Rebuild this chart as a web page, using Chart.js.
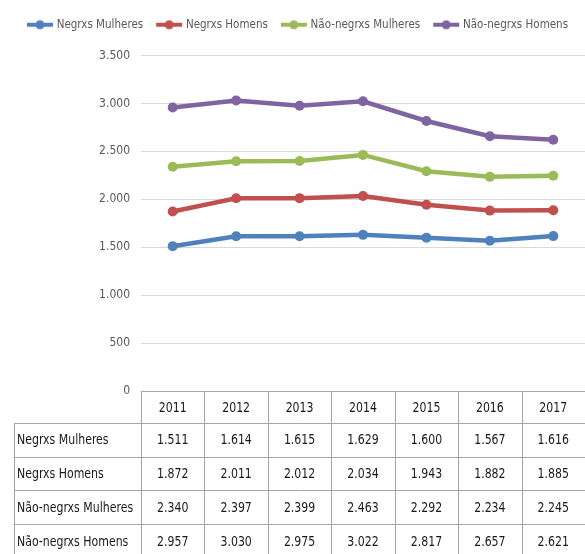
<!DOCTYPE html>
<html>
<head>
<meta charset="utf-8">
<script src="https://cdn.jsdelivr.net/npm/chart.js@4.4.0/dist/chart.umd.min.js"></script>
<style>
  html, body { margin: 0; padding: 0; background: #fff; }
</style>
</head>
<body>
<canvas id="grafico" width="585" height="554"></canvas>
<script>
const anos = ["2011", "2012", "2013", "2014", "2015", "2016", "2017"];
const series = ["Negrxs Mulheres", "Negrxs Homens", "Não-negrxs Mulheres", "Não-negrxs Homens"];
const negrxsMulheres = [1511, 1614, 1615, 1629, 1600, 1567, 1616];
const negrxsHomens = [1872, 2011, 2012, 2034, 1943, 1882, 1885];
const naoNegrxsMulheres = [2340, 2397, 2399, 2463, 2292, 2234, 2245];
const naoNegrxsHomens = [2957, 3030, 2975, 3022, 2817, 2657, 2621];
const cores = ["#4f81bd", "#c0504d", "#9bbb59", "#8064a2"];
const yMax = 3500;
const yPasso = 500;

const fonte = "'Liberation Sans Narrow', 'DejaVu Sans Condensed', sans-serif";
Chart.defaults.font.family = fonte;

// separador de milhar com ponto (3.500)
function fmt(n) {
  return String(n).replace(/\B(?=(\d{3})+(?!\d))/g, ".");
}

// marcador da legenda: linha com ponto no meio
function marcador(cor) {
  const c = document.createElement("canvas");
  c.width = 28;
  c.height = 12;
  const g = c.getContext("2d");
  g.strokeStyle = cor;
  g.lineWidth = 4;
  g.beginPath();
  g.moveTo(1, 6);
  g.lineTo(27, 6);
  g.stroke();
  g.fillStyle = cor;
  g.beginPath();
  g.arc(14, 6, 4.5, 0, Math.PI * 2);
  g.fill();
  return c;
}

// texto estreito (a fonte original é mais condensada)
function textoEstreito(ctx, txt, x, y, alinhar) {
  ctx.save();
  ctx.translate(x, y);
  ctx.scale(0.87, 1);
  ctx.textAlign = alinhar;
  ctx.fillText(txt, 0, 0);
  ctx.restore();
}

// espaço extra entre a legenda e a área do gráfico
const espacoLegenda = {
  id: "espacoLegenda",
  beforeLayout(chart) {
    const lg = chart.legend;
    if (lg && !lg._espaco) {
      const fitOriginal = lg.fit.bind(lg);
      lg.fit = function () {
        fitOriginal();
        this.height += 15;
      };
      lg._espaco = true;
    }
  }
};

// tabela de dados sob o gráfico, alinhada à escala x
const tabela = {
  id: "tabela",
  afterDraw(chart) {
    const { ctx, chartArea, scales: { x } } = chart;
    const passo = x.getPixelForValue(1) - x.getPixelForValue(0);
    const esq = Math.round(x.getPixelForValue(0) - passo / 2);
    const dir = x.getPixelForValue(anos.length - 1) + passo / 2;
    const topo = Math.round(chartArea.bottom);
    const cab = 32;
    const alt = 33.7;
    const tabEsq = 14;
    const linhas = [negrxsMulheres, negrxsHomens, naoNegrxsMulheres, naoNegrxsHomens];
    const fundo = topo + cab + alt * linhas.length;

    ctx.save();
    ctx.strokeStyle = "#a6a6a6";
    ctx.lineWidth = 1;
    ctx.beginPath();
    ctx.moveTo(esq, topo + 0.5);
    ctx.lineTo(dir, topo + 0.5);
    for (let r = 0; r <= linhas.length; r++) {
      const y = Math.round(topo + cab + alt * r) + 0.5;
      ctx.moveTo(tabEsq, y);
      ctx.lineTo(dir, y);
    }
    ctx.moveTo(tabEsq + 0.5, topo + cab);
    ctx.lineTo(tabEsq + 0.5, fundo);
    for (let k = 0; k <= anos.length; k++) {
      const xx = Math.round(esq + passo * k) + 0.5;
      ctx.moveTo(xx, topo);
      ctx.lineTo(xx, fundo);
    }
    ctx.stroke();

    ctx.fillStyle = "#1a1a1a";
    ctx.font = "14px " + fonte;
    ctx.textBaseline = "middle";
    anos.forEach((a, i) => textoEstreito(ctx, a, x.getPixelForValue(i), topo + cab / 2 + 1, "center"));
    linhas.forEach((vals, r) => {
      const yc = topo + cab + alt * r + alt / 2 + 1;
      textoEstreito(ctx, series[r], tabEsq + 3, yc, "left");
      vals.forEach((v, i) => textoEstreito(ctx, fmt(v), x.getPixelForValue(i), yc, "center"));
    });
    ctx.restore();
  }
};

const ctx = document.getElementById("grafico").getContext("2d");
new Chart(ctx, {
  type: "line",
  data: {
    labels: anos,
    datasets: [negrxsMulheres, negrxsHomens, naoNegrxsMulheres, naoNegrxsHomens].map((d, i) => ({
      label: series[i],
      data: d,
      borderColor: cores[i],
      backgroundColor: cores[i],
      borderWidth: 4.5,
      pointRadius: 5,
      pointBorderWidth: 0,
      pointBackgroundColor: cores[i],
      tension: 0
    }))
  },
  options: {
    responsive: false,
    animation: false,
    layout: { autoPadding: false, padding: { left: 12, right: 0, top: 4, bottom: 0 } },
    plugins: {
      tooltip: { enabled: false },
      legend: {
        position: "top",
        labels: {
          usePointStyle: true,
          pointStyleWidth: 22,
          padding: 15,
          color: "#595959",
          font: { size: 11.5 },
          generateLabels(chart) {
            return chart.data.datasets.map((d, i) => ({
              text: d.label,
              pointStyle: marcador(d.borderColor),
              fillStyle: d.borderColor,
              strokeStyle: d.borderColor,
              lineWidth: 0,
              fontColor: "#595959",
              hidden: false,
              datasetIndex: i
            }));
          }
        }
      }
    },
    scales: {
      x: {
        offset: true,
        grid: { display: false, drawTicks: false },
        border: { display: false },
        // os anos são escritos no cabeçalho da tabela
        ticks: { display: false },
        afterFit(scale) { scale.height = 163; }
      },
      y: {
        min: 0,
        max: yMax,
        border: { display: false },
        grid: {
          drawTicks: false,
          color: c => c.tick && c.tick.value === 0 ? "rgba(0,0,0,0)" : "#d9d9d9"
        },
        ticks: {
          stepSize: yPasso,
          color: "#595959",
          font: { size: 12 },
          padding: 11,
          callback: v => fmt(v)
        },
        afterFit(scale) { scale.width = 129; }
      }
    }
  },
  plugins: [espacoLegenda, tabela]
});
</script>
</body>
</html>
